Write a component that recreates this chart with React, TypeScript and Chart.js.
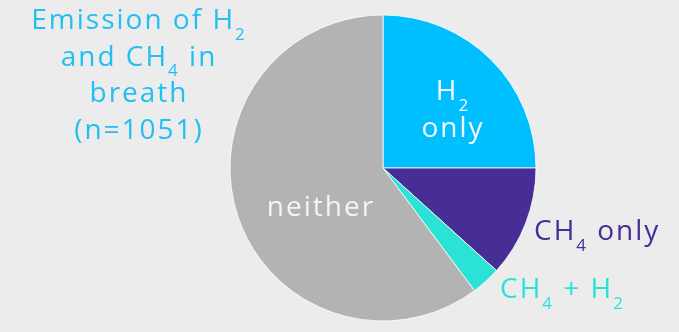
import { useEffect, useRef } from "react";
import { Chart, registerables } from "chart.js";

Chart.register(...registerables);

// Share of breath samples (%) by gas emitted, n = 1051
const categories = ["H2 only", "CH4 only", "CH4 + H2", "neither"];
const shares = [25.0, 11.7, 3.1, 60.2];
const sliceColors = ["#00bfff", "#472d96", "#2ae3d6", "#b2b3b2"];

// "_d" marks a subscript digit
const titleLines = ["Emission of H_2", "and CH_4 in", "breath", "(n=1051)"];
const sliceLabels = [["H_2", "only"], ["CH_4 only"], ["CH_4 + H_2"], ["neither"]];

const FONT = '"Open Sans", "DejaVu Sans", sans-serif';
const SIZE = 28;
const BG = "#ececec";

type Seg = { t: string; sub: boolean; w?: number };

function drawRich(
  ctx: CanvasRenderingContext2D,
  src: string,
  x: number,
  y: number,
  align: "left" | "center",
  color: string
) {
  const segs: Seg[] = src
    .split(/(_\d)/)
    .filter((s) => s.length > 0)
    .map((s) => (s.startsWith("_") ? { t: s.slice(1), sub: true } : { t: s, sub: false }));
  const mainFont = `${SIZE}px ${FONT}`;
  const subFont = `${Math.round(SIZE * 0.6)}px ${FONT}`;
  let total = 0;
  for (const s of segs) {
    ctx.font = s.sub ? subFont : mainFont;
    s.w = ctx.measureText(s.t).width;
    total += s.w;
  }
  let cx = align === "center" ? x - total / 2 : x;
  ctx.fillStyle = color;
  ctx.textAlign = "left";
  ctx.textBaseline = "alphabetic";
  for (const s of segs) {
    ctx.font = s.sub ? subFont : mainFont;
    ctx.fillText(s.t, cx, s.sub ? y + SIZE * 0.39 : y);
    cx += s.w || 0;
  }
}

// label anchors, as offsets from the pie centre
const labelSpots: { dx: number; dy: number; align: "left" | "center"; color: string; gap: number }[] = [
  { dx: 70, dy: -68, align: "center", color: "#f2fbff", gap: 37 },
  { dx: 151, dy: 72, align: "left", color: "#472d96", gap: 0 },
  { dx: 117, dy: 130, align: "left", color: "#2ae3d6", gap: 0 },
  { dx: -62, dy: 48, align: "center", color: "#f4f4f4", gap: 0 },
];

const textPlugin = {
  id: "breathText",
  afterDraw(chart: Chart) {
    const ctx = chart.ctx;
    const arc: any = chart.getDatasetMeta(0).data[0];
    if (!arc) return;
    const { x: ox, y: oy } = arc;
    ctx.save();
    (ctx as any).letterSpacing = "2px";
    titleLines.forEach((line, i) => {
      drawRich(ctx, line, 139, 29 + i * 36.5, "center", "#22bff3");
    });
    sliceLabels.forEach((lines, i) => {
      const spot = labelSpots[i];
      lines.forEach((line, j) => {
        drawRich(ctx, line, ox + spot.dx, oy + spot.dy + j * spot.gap, spot.align, spot.color);
      });
    });
    ctx.restore();
  },
};

export default function App() {
  const canvasRef = useRef<HTMLCanvasElement | null>(null);

  useEffect(() => {
    document.body.style.margin = "0";
    document.body.style.background = BG;
    const canvas = canvasRef.current;
    if (!canvas) return;
    const chart = new Chart(canvas, {
      type: "pie",
      data: {
        labels: categories,
        datasets: [
          {
            data: shares,
            backgroundColor: sliceColors,
            borderColor: "rgba(255,255,255,0.8)",
            borderWidth: 1,
            radius: 153,
          } as any,
        ],
      },
      options: {
        responsive: false,
        animation: false,
        layout: { padding: { left: 87, top: 4, right: 0, bottom: 0 } },
        plugins: {
          legend: { display: false },
          tooltip: { enabled: false },
        },
      },
      plugins: [textPlugin],
    });
    return () => chart.destroy();
  }, []);

  return (
    <div style={{ position: "fixed", left: 0, top: 0, width: 679, height: 332, background: BG }}>
      <canvas ref={canvasRef} width={679} height={332} style={{ display: "block" }} />
    </div>
  );
}
